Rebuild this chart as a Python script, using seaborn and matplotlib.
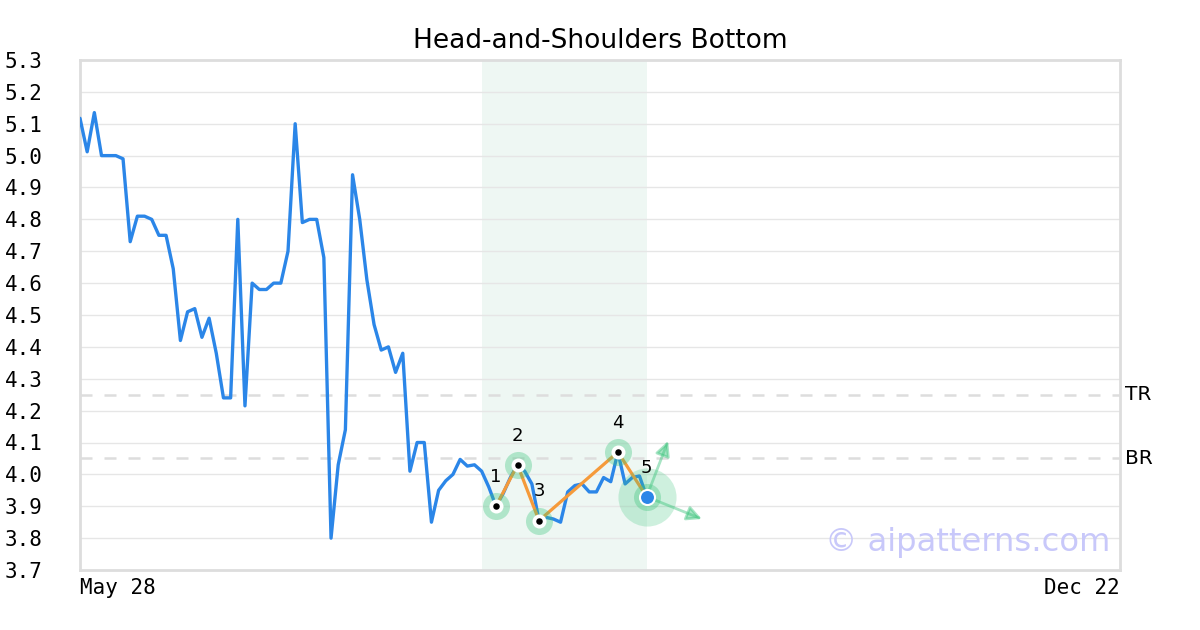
import numpy as np
import pandas as pd
import matplotlib
matplotlib.use("Agg")
import matplotlib.pyplot as plt
import seaborn as sns

# price series (one value per bar)
prices = [5.117, 5.012, 5.135, 5.00, 5.00, 5.00, 4.99, 4.73, 4.81, 4.81,
          4.80, 4.75, 4.75, 4.645, 4.42, 4.51, 4.52, 4.43, 4.49, 4.38,
          4.24, 4.24, 4.80, 4.215, 4.60, 4.58, 4.58, 4.60, 4.60, 4.70,
          5.10, 4.79, 4.80, 4.80, 4.68, 3.80, 4.03, 4.14, 4.94, 4.80,
          4.61, 4.47, 4.39, 4.40, 4.32, 4.38, 4.01, 4.10, 4.10, 3.85,
          3.95, 3.98, 4.00, 4.047, 4.026, 4.03, 4.01, 3.96, 3.90, 3.94,
          3.99, 4.03, 4.01, 3.97, 3.855, 3.865, 3.86, 3.85, 3.945, 3.965,
          3.97, 3.945, 3.945, 3.99, 3.977, 4.07, 3.97, 3.99, 3.995, 3.93]

# pattern pivots
pivot_idx = [58, 61, 64, 75, 79]
pivot_labels = ["1", "2", "3", "4", "5"]

top_level = 4.25     # TR
bottom_level = 4.05  # BR

zone_start, zone_end = 56, 79
axis_end = 145
date_labels = ["May 28", "Dec 22"]

# projected arrows out of the last pivot
arrow_targets = [(82.0, 4.105), (86.7, 3.86)]

df = pd.DataFrame({"t": np.arange(len(prices)), "price": prices})
piv = df.loc[pivot_idx]

sns.set_theme(style="white")
plt.rcParams["font.family"] = ["DejaVu Sans"]
plt.rcParams["text.color"] = "black"
plt.rcParams["xtick.color"] = "black"
plt.rcParams["ytick.color"] = "black"
plt.rcParams["axes.titlecolor"] = "black"

fig = plt.figure(figsize=(12, 6.3), dpi=100)
ax = fig.add_axes([80 / 1200, 60 / 630, 1040 / 1200, 510 / 630])

blue = "#2b86e8"
green = "#3cc47c"
orange = "#f59a3a"

ax.axvspan(zone_start, zone_end, color="#eef7f3", zorder=0, lw=0)

for lvl in [top_level, bottom_level]:
    ax.axhline(lvl, color="#dddddd", lw=1.8, ls=(0, (4.8, 4.8)), zorder=1)

sns.lineplot(data=df, x="t", y="price", color=blue, lw=2.4, ax=ax, zorder=3)

ax.plot(piv["t"], piv["price"], color=orange, lw=2.3, zorder=4)

# halo circles
ax.scatter(piv["t"], piv["price"], s=27 ** 2 * 0.52, color=green, alpha=0.35,
           lw=0, zorder=5)
last = piv.iloc[-1]
ax.scatter([last["t"]], [last["price"]], s=58 ** 2 * 0.52, color=green,
           alpha=0.25, lw=0, zorder=5)

for tx, ty in arrow_targets:
    ax.annotate("", xy=(tx, ty), xytext=(last["t"], last["price"]),
                arrowprops=dict(arrowstyle="-|>", color=green, alpha=0.45,
                                lw=2, mutation_scale=22, shrinkA=0, shrinkB=0),
                zorder=5)

ax.scatter(piv["t"][:-1], piv["price"][:-1], s=14 ** 2 * 0.52, color="white",
           lw=0, zorder=6)
ax.scatter(piv["t"][:-1], piv["price"][:-1], s=6.5 ** 2 * 0.52, color="black",
           lw=0, zorder=7)
ax.scatter([last["t"]], [last["price"]], s=15 ** 2 * 0.52, color=blue,
           edgecolor="white", lw=1.5, zorder=7)

for (t, p), lab in zip(zip(piv["t"], piv["price"]), pivot_labels):
    ax.annotate(lab, (t, p), xytext=(0, 21), textcoords="offset points",
                ha="center", va="center", fontsize=13, color="black", zorder=8)

ax.set_xlim(0, axis_end)
ax.set_ylim(3.7, 5.3)
ax.set_yticks(np.round(np.arange(3.7, 5.31, 0.1), 1))
ax.set_yticklabels([f"{v:.1f}" for v in np.arange(3.7, 5.31, 0.1)],
                   family="DejaVu Sans Mono", fontsize=15)
ax.set_xticks([0, axis_end])
ax.set_xticklabels(date_labels, family="DejaVu Sans Mono", fontsize=15)
xl = ax.get_xticklabels()
xl[0].set_ha("left")
xl[1].set_ha("right")
ax.tick_params(axis="y", length=0, pad=27)
ax.tick_params(axis="x", length=0, pad=6)
ax.set_xlabel("")
ax.set_ylabel("")

ax.grid(axis="y", color="#e6e6e6", lw=1)
ax.grid(axis="x", visible=False)
for s in ax.spines.values():
    s.set_color("#dddddd")
    s.set_linewidth(2)

trans = ax.get_yaxis_transform()
ax.text(1.005, top_level, "TR", transform=trans, ha="left", va="center",
        fontsize=14.5, color="black")
ax.text(1.005, bottom_level, "BR", transform=trans, ha="left", va="center",
        fontsize=14.5, color="black")

ax.set_title("Head-and-Shoulders Bottom", fontsize=19, pad=9, color="black")

fig.text(1110 / 1200, 1 - 542 / 630, "\u00a9 aipatterns.com", ha="right",
         va="center", fontsize=23.2, color="#c8c8fa")

fig.savefig("out.png", dpi=100)
